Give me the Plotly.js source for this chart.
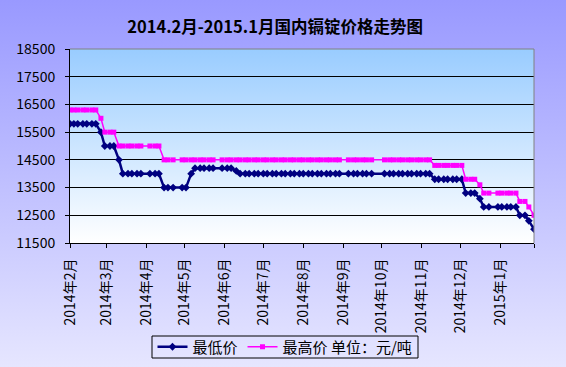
<!DOCTYPE html>
<html><head><meta charset="utf-8">
<script src="https://cdn.plot.ly/plotly-3.0.1.min.js"></script>
<style>
html,body{margin:0;padding:0;overflow:hidden;}
#wrap{position:relative;width:566px;height:367px;background:linear-gradient(to bottom,#9999ff 0%,#e6e6ff 100%);}
#plotbg{position:absolute;left:70px;top:49px;width:464px;height:194px;background:linear-gradient(to bottom,#99ccff 0%,#ffffff 100%);}
#chart{position:absolute;left:0;top:0;width:566px;height:367px;}
</style></head>
<body><div id="wrap"><div id="plotbg"></div><div id="chart"></div></div>
<script>
const dates = [
 '2014-02-07','2014-02-10','2014-02-13','2014-02-17','2014-02-20','2014-02-24','2014-02-27',
 '2014-03-03','2014-03-06','2014-03-10','2014-03-13','2014-03-17','2014-03-20','2014-03-24','2014-03-27','2014-03-31',
 '2014-04-03','2014-04-10','2014-04-14','2014-04-17','2014-04-21','2014-04-24','2014-04-28',
 '2014-05-05','2014-05-08','2014-05-12','2014-05-15','2014-05-19','2014-05-22','2014-05-26','2014-05-29',
 '2014-06-05','2014-06-09','2014-06-12','2014-06-16','2014-06-19','2014-06-23','2014-06-26','2014-06-30',
 '2014-07-03','2014-07-07','2014-07-10','2014-07-14','2014-07-17','2014-07-21','2014-07-24','2014-07-28','2014-07-31',
 '2014-08-04','2014-08-07','2014-08-11','2014-08-14','2014-08-18','2014-08-21','2014-08-25','2014-08-28',
 '2014-09-01','2014-09-04','2014-09-11','2014-09-15','2014-09-18','2014-09-22','2014-09-25','2014-09-29',
 '2014-10-09','2014-10-13','2014-10-16','2014-10-20','2014-10-23','2014-10-27','2014-10-30',
 '2014-11-03','2014-11-06','2014-11-10','2014-11-13','2014-11-17','2014-11-20','2014-11-24','2014-11-27',
 '2014-12-01','2014-12-04','2014-12-08','2014-12-11','2014-12-15','2014-12-18','2014-12-22','2014-12-25','2014-12-29',
 '2015-01-05','2015-01-08','2015-01-12','2015-01-15','2015-01-19','2015-01-22','2015-01-26','2015-01-29',
 '2015-02-02'
];
const lowPrice = [
 15800,15800,15800,15800,15800,15800,15800,
 15500,15000,15000,15000,14500,14000,14000,14000,14000,
 14000,14000,14000,14000,13500,13500,13500,
 13500,13500,14000,14200,14200,14200,14200,14200,
 14200,14200,14200,14100,14000,14000,14000,14000,
 14000,14000,14000,14000,14000,14000,14000,14000,14000,
 14000,14000,14000,14000,14000,14000,14000,14000,
 14000,14000,14000,14000,14000,14000,14000,14000,
 14000,14000,14000,14000,14000,14000,14000,
 14000,14000,14000,14000,13800,13800,13800,13800,
 13800,13800,13800,13300,13300,13300,13100,12800,12800,
 12800,12800,12800,12800,12800,12500,12500,12300,
 12000
];
const highPrice = [
 16300,16300,16300,16300,16300,16300,16300,
 16000,15500,15500,15500,15000,15000,15000,15000,15000,
 15000,15000,15000,15000,14500,14500,14500,
 14500,14500,14500,14500,14500,14500,14500,14500,
 14500,14500,14500,14500,14500,14500,14500,14500,
 14500,14500,14500,14500,14500,14500,14500,14500,14500,
 14500,14500,14500,14500,14500,14500,14500,14500,
 14500,14500,14500,14500,14500,14500,14500,14500,
 14500,14500,14500,14500,14500,14500,14500,
 14500,14500,14500,14500,14300,14300,14300,14300,
 14300,14300,14300,13800,13800,13800,13600,13300,13300,
 13300,13300,13300,13300,13300,13000,13000,12800,
 12500
];
const tickDates = ['2014-02-07','2014-03-07','2014-04-07','2014-05-07','2014-06-07','2014-07-07','2014-08-07','2014-09-07','2014-10-07','2014-11-07','2014-12-07','2015-01-07','2015-02-02'];
const tickLabels = ['2014年2月','2014年3月','2014年4月','2014年5月','2014年6月','2014年7月','2014年8月','2014年9月','2014年10月','2014年11月','2014年12月','2015年1月',''];
const seriesNames = ['最低价','最高价 单位：元/吨'];
const chartTitle = '2014.2月-2015.1月国内镉锭价格走势图';

const traces = [
 {x:dates, y:lowPrice, name:seriesNames[0], type:'scatter', mode:'lines+markers',
  line:{color:'#000080', width:2.5}, marker:{symbol:'diamond', size:6, color:'#000080'}},
 {x:dates, y:highPrice, name:seriesNames[1], type:'scatter', mode:'lines+markers',
  line:{color:'#ff00ff', width:1.5}, marker:{symbol:'square', size:5, color:'#ff00ff'}}
];
// plot area: x 70..534, y 49..243 px
const layout = {
 width:566, height:367,
 margin:{l:70, r:32, t:49, b:124, pad:0},
 paper_bgcolor:'rgba(0,0,0,0)', plot_bgcolor:'rgba(0,0,0,0)',
 font:{family:'"Noto Sans CJK SC", "Noto Sans", sans-serif', color:'#000', size:13},
 title:{text:chartTitle, font:{size:16.5, weight:'bold', color:'#000'}, x:0.486, xref:'container', xanchor:'center', y:1-27.5/367, yref:'container', yanchor:'middle'},
 xaxis:{type:'date', range:['2014-02-07','2015-02-02'], tickmode:'array', tickvals:tickDates, ticktext:tickLabels,
  tickangle:-90, ticks:'outside', ticklen:4, tickcolor:'#000', showline:true, linecolor:'#000', linewidth:1,
  showgrid:false, zeroline:false, tickfont:{size:14}, ticklabelstandoff:5, fixedrange:true},
 yaxis:{range:[11500,18500], tick0:11500, dtick:1000, tickformat:'d', ticks:'outside', ticklen:4, tickcolor:'#000',
  showline:true, linecolor:'#000', linewidth:1, showgrid:true, gridcolor:'#000', gridwidth:1, zeroline:false,
  tickfont:{size:14}, ticklabelstandoff:7, fixedrange:true},
 showlegend:true,
 legend:{orientation:'h', x:285/566, xref:'container', xanchor:'center', y:1-347/367, yref:'container', yanchor:'middle',
  borderwidth:0, bgcolor:'rgba(0,0,0,0)', font:{size:15}, itemwidth:30},
 shapes:[
  {type:'line', xref:'paper', yref:'paper', x0:0, x1:1, y0:1, y1:1, line:{color:'#808080', width:1}},
  {type:'line', xref:'paper', yref:'paper', x0:1, x1:1, y0:0, y1:1, line:{color:'#808080', width:1}},
  {type:'rect', xref:'paper', yref:'paper', x0:(152-70)/464, x1:(418-70)/464, y0:(243-336)/194, y1:(243-358)/194,
   line:{color:'#000', width:1}, fillcolor:'rgba(0,0,0,0)'}
 ]
};
Plotly.newPlot('chart', traces, layout, {displayModeBar:false, staticPlot:true});
</script>
</body></html>
